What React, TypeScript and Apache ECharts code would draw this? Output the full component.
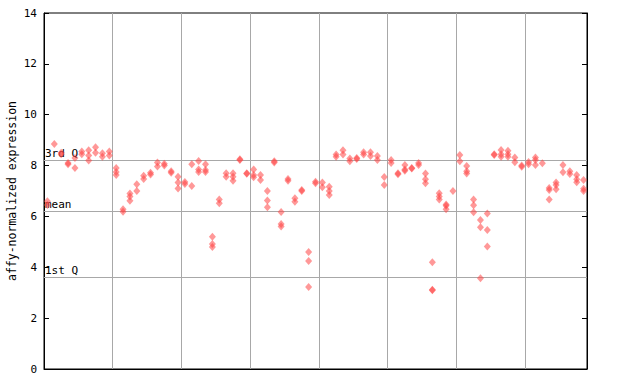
import React, { useEffect, useRef } from "react";
import * as echarts from "echarts";

// replicate values per sample (index = sample position)
const rep1: (number | null)[] = [
  6.6, 8.85, 8.5, 8.05, 8.3, 8.55, 8.6, 8.72, 8.48, 8.55,
  7.9, 6.28, 6.9, 7.27, 7.6, 7.72, 8.12, 8.07, 7.78, 7.56,
  7.35, 8.05, 8.18, 8.05, 5.2, 6.67, 7.7, 7.7, 8.22, 7.7,
  7.85, 7.63, 7.0, 8.17, 6.17, 7.47, 6.71, 7.04, 4.6, 7.36,
  7.33, 7.17, 8.44, 8.6, 8.28, 8.3, 8.52, 8.52, 8.38, 7.55,
  8.22, 7.7, 8.02, 7.9, 8.1, 7.69, 4.2, 6.91, 6.47, 7.0,
  8.42, 7.98, 6.67, 5.86, 6.12, 8.45, 8.61, 8.58, 8.32, 8.0,
  8.14, 8.32, 8.09, 7.12, 7.33, 8.02, 7.78, 7.63, 7.43,
];
const rep2: (number | null)[] = [
  6.45, null, 8.45, 8.1, 7.9, 8.45, 8.4, 8.5, 8.35, 8.4,
  7.75, 6.18, 6.78, 7.0, 7.47, 7.65, 7.96, 8.0, 7.72, 7.33,
  7.28, 7.2, 7.85, 7.83, 4.92, 6.52, 7.56, 7.56, 8.25, 7.68,
  7.63, 7.43, 6.63, 8.12, 5.7, 7.4, 6.58, 7.0, 4.25, 7.3,
  7.15, 7.0, 8.35, 8.44, 8.17, 8.26, 8.44, 8.38, 8.22, 7.24,
  8.1, 7.66, 7.85, 7.88, 8.02, 7.46, 3.12, 6.78, 6.42, null,
  8.17, 7.78, 6.44, 5.57, 5.47, 8.42, 8.45, 8.45, 8.13, 7.95,
  8.05, 8.22, null, 7.04, 7.24, 7.74, 7.67, 7.46, 7.09,
];
const rep3: (number | null)[] = [
  null, null, null, null, null, null, 8.2, null, null, null,
  7.63, null, 6.62, null, null, null, null, null, null, 7.1,
  null, null, 7.75, 7.75, 4.8, null, null, 7.4, null, null,
  7.54, null, 6.36, null, 5.6, null, null, null, 3.22, null,
  null, 6.84, null, null, null, null, null, null, null, null,
  null, null, 7.8, null, null, 7.3, 3.1, 6.67, 6.28, null,
  null, 7.69, 6.16, 3.57, 4.82, null, 8.35, 8.35, null, null,
  null, 8.02, null, 6.67, 7.07, null, null, 7.34, 7.0,
];

const yTicks = [0, 2, 4, 6, 8, 10, 12, 14];
const refNames = ["3rd Q", "mean", "1st Q"];
const refValues = [8.22, 6.21, 3.61];

const sampleCount = rep1.length;

function toPoints(arr: (number | null)[]) {
  const out: [number, number][] = [];
  arr.forEach((v, i) => {
    if (v !== null) out.push([i + 0.5, v]);
  });
  return out;
}

export default function App() {
  const ref = useRef<HTMLDivElement>(null);
  useEffect(() => {
    if (!ref.current) return;
    const chart = echarts.init(ref.current, undefined, { renderer: "svg" });
    const font = "DejaVu Sans Mono";
    const pointStyle = { color: "#ff4444", opacity: 0.55 };
    const mkSeries = (arr: (number | null)[], withLines: boolean) => ({
      type: "scatter",
      symbol: "diamond",
      symbolSize: [7, 8],
      itemStyle: pointStyle,
      data: toPoints(arr),
      z: 5,
      ...(withLines
        ? {
            markLine: {
              silent: true,
              symbol: "none",
              lineStyle: { color: "#a8a8a8", width: 1, type: "solid" },
              label: {
                position: "insideStartTop",
                distance: [1, 1],
                color: "#000",
                fontFamily: font,
                fontSize: 11,
                formatter: (p: any) => p.name,
              },
              data: refValues.map((v, k) => ({ name: refNames[k], yAxis: v })),
            },
          }
        : {}),
    });
    chart.setOption({
      animation: false,
      grid: {
        left: 44,
        right: 53,
        top: 13,
        bottom: 15,
        containLabel: false,
        outerBoundsMode: "none",
        show: true,
        borderColor: "#000",
        borderWidth: 1,
        backgroundColor: "#fff",
      },
      xAxis: {
        type: "value",
        min: 0,
        max: sampleCount,
        interval: 10,
        axisLine: { show: true, lineStyle: { color: "#000" } },
        axisTick: { show: false },
        axisLabel: { show: false },
        splitLine: { show: true, lineStyle: { color: "#a8a8a8", width: 1 } },
      },
      yAxis: [
        {
          type: "value",
          min: yTicks[0],
          max: yTicks[yTicks.length - 1],
          interval: 2,
          name: "affy-normalized expression",
          nameLocation: "middle",
          nameRotate: 90,
          nameGap: 26,
          nameMoveOverlap: false,
          nameTextStyle: { fontFamily: font, fontSize: 11.5, color: "#000" },
          axisLine: { show: true, lineStyle: { color: "#000" } },
          axisTick: { show: true, inside: true, length: 5, lineStyle: { color: "#000" } },
          axisLabel: { fontFamily: font, fontSize: 11, color: "#000", margin: 7 },
          splitLine: { show: false },
        },
        {
          type: "value",
          position: "right",
          min: yTicks[0],
          max: yTicks[yTicks.length - 1],
          interval: 2,
          axisLine: { show: true, lineStyle: { color: "#000" } },
          axisTick: { show: true, inside: true, length: 5, lineStyle: { color: "#000" } },
          axisLabel: { show: false },
          splitLine: { show: false },
        },
      ],
      series: [mkSeries(rep1, true), mkSeries(rep2, false), mkSeries(rep3, false)],
    });
    return () => chart.dispose();
  }, []);
  return (
    <div
      ref={ref}
      style={{ position: "fixed", left: 0, top: 0, width: 640, height: 384, background: "#fff" }}
    />
  );
}
